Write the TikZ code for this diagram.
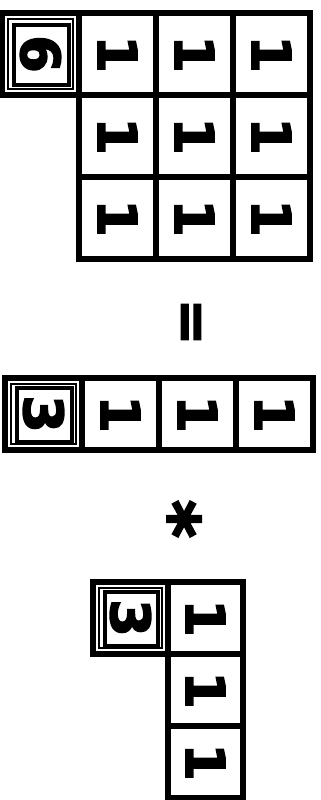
\documentclass[tikz,border=0pt]{standalone}
\usepackage{fontspec}
\setsansfont{DejaVu Sans}
\newfontfamily\heavyfont[FakeBold=3]{DejaVu Sans Bold}
\usepackage{graphicx}
\usepackage{tikz}
\usetikzlibrary{positioning}

\newcommand{\turned}[1]{\rotatebox{-90}{#1}}

\begin{document}
\begin{tikzpicture}[
    x=0.03cm, y=-0.03cm,
    every node/.style={font=\heavyfont\fontsize{46}{46}\selectfont},
    cellbig/.style={rectangle, draw=black, line width=5pt, inner sep=0pt, outer sep=0pt,
                    minimum width=2.31cm, minimum height=2.46cm},
    cellrow/.style={cellbig, minimum width=2.31cm, minimum height=2.16cm},
    cellcol/.style={cellbig, minimum width=2.25cm, minimum height=2.16cm},
    innerthick/.style={line width=3.5pt, draw=black},
    innerthin/.style={line width=1.2pt, draw=black},
    sign/.style={font=\heavyfont\fontsize{48}{48}\selectfont}
]
\useasboundingbox (0,0) rectangle (321,800);

% === Top: 1 x 3 block with the total ===
\node[cellbig] (tot)  at (40.5, 54)   {\turned{6}};
\node[cellbig] (a11) at (117.5, 54)  {\turned{1}};
\node[cellbig] (a12) at (194.5, 54)  {\turned{1}};
\node[cellbig] (a13) at (271.5, 54)  {\turned{1}};
\node[cellbig] (a21) at (117.5, 136) {\turned{1}};
\node[cellbig] (a22) at (194.5, 136) {\turned{1}};
\node[cellbig] (a23) at (271.5, 136) {\turned{1}};
\node[cellbig] (a31) at (117.5, 218) {\turned{1}};
\node[cellbig] (a32) at (194.5, 218) {\turned{1}};
\node[cellbig] (a33) at (271.5, 218) {\turned{1}};

\draw[innerthin]  ([shift={(6,6)}]tot.north west) rectangle ([shift={(-6,-6)}]tot.south east);
\draw[innerthick] ([shift={(12,12)}]tot.north west) rectangle ([shift={(-10,-10)}]tot.south east);

% equals
\node[sign] (eq) at (187, 322) {\turned{=}};

% === Middle: row vector ===
\node[cellrow] (rs)  at (43.5, 414)  {\turned{3}};
\node[cellrow] (r1)  at (120.5, 414) {\turned{1}};
\node[cellrow] (r2)  at (197.5, 414) {\turned{1}};
\node[cellrow] (r3)  at (274.5, 414) {\turned{1}};

\draw[innerthin]  ([shift={(6,6)}]rs.north west) rectangle ([shift={(-6,-6)}]rs.south east);
\draw[innerthick] ([shift={(12,10)}]rs.north west) rectangle ([shift={(-10,-8)}]rs.south east);

% times
\node[sign, font=\heavyfont\fontsize{62}{62}\selectfont] (times) at (174, 519) {\turned{*}};

% === Bottom: column vector ===
\node[cellcol] (cs)  at (130.5, 618) {\turned{3}};
\node[cellcol] (c1)  at (205.5, 618) {\turned{1}};
\node[cellcol] (c2)  at (205.5, 690) {\turned{1}};
\node[cellcol] (c3)  at (205.5, 762) {\turned{1}};

\draw[innerthin]  ([shift={(6,6)}]cs.north west) rectangle ([shift={(-6,-6)}]cs.south east);
\draw[innerthick] ([shift={(12,10)}]cs.north west) rectangle ([shift={(-10,-8)}]cs.south east);

\end{tikzpicture}
\end{document}
